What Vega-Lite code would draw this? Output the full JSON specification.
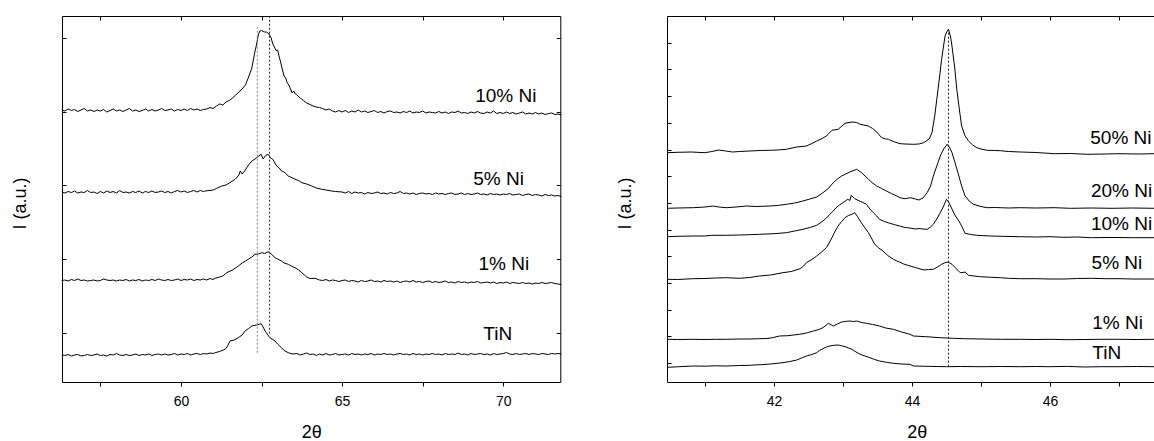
{
"$schema":"https://vega.github.io/schema/vega-lite/v6.json",
"padding":{"left":11,"top":15,"right":0,"bottom":0},
"background":"white",
"config":{"view":{"stroke":null},"font":"Liberation Sans",
"axis":{"labelFont":"Liberation Sans","titleFont":"Liberation Sans","labelColor":"#000","titleColor":"#000","domainColor":"#000","tickColor":"#000","grid":false,"labelFontSize":14,"titleFontSize":18,"titleFontWeight":"normal","domainWidth":1,"tickWidth":1}},
"bounds":"flush",
"spacing":106,
"datasets":{
"left":[
{"s":"10","x":56.3,"y":291},{"s":"10","x":56.4,"y":290},{"s":"10","x":56.5,"y":292},{"s":"10","x":56.6,"y":290.5},{"s":"10","x":56.7,"y":291.5},{"s":"10","x":56.8,"y":289.5},{"s":"10","x":56.9,"y":291},{"s":"10","x":57.0,"y":292.5},{"s":"10","x":57.1,"y":290},{"s":"10","x":57.2,"y":291},{"s":"10","x":57.3,"y":289.5},{"s":"10","x":57.4,"y":291},{"s":"10","x":57.5,"y":290},{"s":"10","x":57.6,"y":291.5},{"s":"10","x":57.7,"y":289},{"s":"10","x":57.8,"y":290.5},{"s":"10","x":57.9,"y":292},{"s":"10","x":58.0,"y":290},{"s":"10","x":58.1,"y":291},{"s":"10","x":58.2,"y":289.5},{"s":"10","x":58.3,"y":291},{"s":"10","x":58.4,"y":292.5},{"s":"10","x":58.5,"y":290},{"s":"10","x":58.6,"y":291},{"s":"10","x":58.7,"y":289.5},{"s":"10","x":58.8,"y":290.5},{"s":"10","x":58.9,"y":292},{"s":"10","x":59.0,"y":290},{"s":"10","x":59.1,"y":291.5},{"s":"10","x":59.2,"y":290},{"s":"10","x":59.3,"y":291},{"s":"10","x":59.4,"y":292.5},{"s":"10","x":59.5,"y":290.5},{"s":"10","x":59.6,"y":291},{"s":"10","x":59.7,"y":292},{"s":"10","x":59.8,"y":290},{"s":"10","x":59.9,"y":291.5},{"s":"10","x":60.0,"y":290.5},{"s":"10","x":60.1,"y":292},{"s":"10","x":60.2,"y":290.5},{"s":"10","x":60.3,"y":292.5},{"s":"10","x":60.4,"y":291},{"s":"10","x":60.5,"y":292},{"s":"10","x":60.6,"y":290.5},{"s":"10","x":60.7,"y":291.5},{"s":"10","x":60.8,"y":292},{"s":"10","x":60.9,"y":293.5},{"s":"10","x":61.0,"y":292.5},{"s":"10","x":61.1,"y":295},{"s":"10","x":61.2,"y":297},{"s":"10","x":61.3,"y":296},{"s":"10","x":61.4,"y":299},{"s":"10","x":61.5,"y":300.5},{"s":"10","x":61.6,"y":303},{"s":"10","x":61.7,"y":306},{"s":"10","x":61.8,"y":309},{"s":"10","x":61.9,"y":312},{"s":"10","x":62.0,"y":316},{"s":"10","x":62.1,"y":324},{"s":"10","x":62.2,"y":333},{"s":"10","x":62.3,"y":350},{"s":"10","x":62.35,"y":357},{"s":"10","x":62.4,"y":366},{"s":"10","x":62.45,"y":370},{"s":"10","x":62.5,"y":370.5},{"s":"10","x":62.55,"y":369.5},{"s":"10","x":62.6,"y":369},{"s":"10","x":62.65,"y":369},{"s":"10","x":62.7,"y":368},{"s":"10","x":62.75,"y":366},{"s":"10","x":62.8,"y":363},{"s":"10","x":62.85,"y":357},{"s":"10","x":62.9,"y":354},{"s":"10","x":62.95,"y":350.5},{"s":"10","x":63.0,"y":351},{"s":"10","x":63.05,"y":344},{"s":"10","x":63.1,"y":338},{"s":"10","x":63.15,"y":331},{"s":"10","x":63.2,"y":325},{"s":"10","x":63.25,"y":323},{"s":"10","x":63.3,"y":318},{"s":"10","x":63.35,"y":316},{"s":"10","x":63.4,"y":312},{"s":"10","x":63.45,"y":308},{"s":"10","x":63.5,"y":310},{"s":"10","x":63.55,"y":307},{"s":"10","x":63.6,"y":306},{"s":"10","x":63.7,"y":303},{"s":"10","x":63.8,"y":300.5},{"s":"10","x":63.9,"y":298},{"s":"10","x":64.0,"y":296.5},{"s":"10","x":64.1,"y":295},{"s":"10","x":64.2,"y":294},{"s":"10","x":64.3,"y":293.5},{"s":"10","x":64.4,"y":292.5},{"s":"10","x":64.5,"y":291},{"s":"10","x":64.6,"y":292},{"s":"10","x":64.7,"y":290},{"s":"10","x":64.8,"y":289},{"s":"10","x":64.9,"y":290.5},{"s":"10","x":65.0,"y":289},{"s":"10","x":65.1,"y":290.5},{"s":"10","x":65.2,"y":288.5},{"s":"10","x":65.3,"y":290},{"s":"10","x":65.4,"y":289},{"s":"10","x":65.5,"y":291},{"s":"10","x":65.6,"y":289},{"s":"10","x":65.7,"y":290},{"s":"10","x":65.8,"y":288.5},{"s":"10","x":65.9,"y":289.5},{"s":"10","x":66.0,"y":290.5},{"s":"10","x":66.1,"y":288.5},{"s":"10","x":66.2,"y":289.5},{"s":"10","x":66.3,"y":288},{"s":"10","x":66.4,"y":289.5},{"s":"10","x":66.5,"y":290},{"s":"10","x":66.6,"y":288.5},{"s":"10","x":66.7,"y":289},{"s":"10","x":66.8,"y":288},{"s":"10","x":66.9,"y":289.5},{"s":"10","x":67.0,"y":288.5},{"s":"10","x":67.1,"y":290},{"s":"10","x":67.2,"y":288},{"s":"10","x":67.3,"y":289},{"s":"10","x":67.4,"y":288.5},{"s":"10","x":67.5,"y":290},{"s":"10","x":67.6,"y":288},{"s":"10","x":67.7,"y":289},{"s":"10","x":67.8,"y":288.5},{"s":"10","x":67.9,"y":288},{"s":"10","x":68.0,"y":289.5},{"s":"10","x":68.1,"y":288},{"s":"10","x":68.2,"y":289},{"s":"10","x":68.3,"y":287.5},{"s":"10","x":68.4,"y":289},{"s":"10","x":68.5,"y":288.5},{"s":"10","x":68.6,"y":290},{"s":"10","x":68.7,"y":288},{"s":"10","x":68.8,"y":288.5},{"s":"10","x":68.9,"y":287.5},{"s":"10","x":69.0,"y":289},{"s":"10","x":69.1,"y":288},{"s":"10","x":69.2,"y":289.5},{"s":"10","x":69.3,"y":288},{"s":"10","x":69.4,"y":287.5},{"s":"10","x":69.5,"y":289},{"s":"10","x":69.6,"y":288},{"s":"10","x":69.7,"y":290},{"s":"10","x":69.8,"y":287.5},{"s":"10","x":69.9,"y":288.5},{"s":"10","x":70.0,"y":287.5},{"s":"10","x":70.1,"y":289},{"s":"10","x":70.2,"y":287.5},{"s":"10","x":70.3,"y":288.5},{"s":"10","x":70.4,"y":287},{"s":"10","x":70.5,"y":288},{"s":"10","x":70.6,"y":289},{"s":"10","x":70.7,"y":287},{"s":"10","x":70.8,"y":288},{"s":"10","x":70.9,"y":287},{"s":"10","x":71.0,"y":288.5},{"s":"10","x":71.1,"y":287},{"s":"10","x":71.2,"y":288},{"s":"10","x":71.3,"y":286.5},{"s":"10","x":71.4,"y":287.5},{"s":"10","x":71.5,"y":288},{"s":"10","x":71.6,"y":286.5},{"s":"10","x":71.7,"y":287},{"s":"10","x":71.8,"y":286},
{"s":"5","x":56.3,"y":209},{"s":"5","x":56.4,"y":208},{"s":"5","x":56.5,"y":209.5},{"s":"5","x":56.6,"y":208.5},{"s":"5","x":56.7,"y":210},{"s":"5","x":56.8,"y":208},{"s":"5","x":56.9,"y":209},{"s":"5","x":57.0,"y":208.5},{"s":"5","x":57.1,"y":210.5},{"s":"5","x":57.2,"y":208.5},{"s":"5","x":57.3,"y":209},{"s":"5","x":57.4,"y":207.5},{"s":"5","x":57.5,"y":209.5},{"s":"5","x":57.6,"y":208},{"s":"5","x":57.7,"y":210},{"s":"5","x":57.8,"y":208.5},{"s":"5","x":57.9,"y":209.5},{"s":"5","x":58.0,"y":208},{"s":"5","x":58.1,"y":210.5},{"s":"5","x":58.2,"y":208.5},{"s":"5","x":58.3,"y":209},{"s":"5","x":58.4,"y":208},{"s":"5","x":58.5,"y":209.5},{"s":"5","x":58.6,"y":208.5},{"s":"5","x":58.7,"y":210},{"s":"5","x":58.8,"y":208},{"s":"5","x":58.9,"y":209.5},{"s":"5","x":59.0,"y":208.5},{"s":"5","x":59.1,"y":210},{"s":"5","x":59.2,"y":208.5},{"s":"5","x":59.3,"y":209},{"s":"5","x":59.4,"y":210},{"s":"5","x":59.5,"y":208.5},{"s":"5","x":59.6,"y":209.5},{"s":"5","x":59.7,"y":208},{"s":"5","x":59.8,"y":209.5},{"s":"5","x":59.9,"y":210.5},{"s":"5","x":60.0,"y":209},{"s":"5","x":60.1,"y":210},{"s":"5","x":60.2,"y":208.5},{"s":"5","x":60.3,"y":209.5},{"s":"5","x":60.4,"y":210.5},{"s":"5","x":60.5,"y":209},{"s":"5","x":60.6,"y":210.5},{"s":"5","x":60.7,"y":209.5},{"s":"5","x":60.75,"y":210},{"s":"5","x":61.0,"y":211},{"s":"5","x":61.1,"y":212.5},{"s":"5","x":61.27,"y":215},{"s":"5","x":61.4,"y":216},{"s":"5","x":61.5,"y":218},{"s":"5","x":61.68,"y":221.7},{"s":"5","x":61.8,"y":226},{"s":"5","x":61.84,"y":230},{"s":"5","x":61.9,"y":227},{"s":"5","x":62.0,"y":231},{"s":"5","x":62.04,"y":233.3},{"s":"5","x":62.1,"y":236},{"s":"5","x":62.2,"y":240},{"s":"5","x":62.3,"y":242},{"s":"5","x":62.35,"y":243.3},{"s":"5","x":62.42,"y":245},{"s":"5","x":62.49,"y":246.7},{"s":"5","x":62.55,"y":242},{"s":"5","x":62.63,"y":245.5},{"s":"5","x":62.71,"y":246.7},{"s":"5","x":62.78,"y":243},{"s":"5","x":62.85,"y":241.7},{"s":"5","x":62.9,"y":239},{"s":"5","x":62.97,"y":235},{"s":"5","x":63.05,"y":233},{"s":"5","x":63.12,"y":230},{"s":"5","x":63.2,"y":229},{"s":"5","x":63.33,"y":225},{"s":"5","x":63.4,"y":224},{"s":"5","x":63.54,"y":221.7},{"s":"5","x":63.65,"y":220.5},{"s":"5","x":63.75,"y":218.3},{"s":"5","x":63.9,"y":217},{"s":"5","x":64.06,"y":215},{"s":"5","x":64.2,"y":213},{"s":"5","x":64.37,"y":211.7},{"s":"5","x":64.5,"y":211},{"s":"5","x":64.68,"y":210},{"s":"5","x":64.8,"y":209.5},{"s":"5","x":65.0,"y":209},{"s":"5","x":65.1,"y":208},{"s":"5","x":65.2,"y":209.5},{"s":"5","x":65.3,"y":207.5},{"s":"5","x":65.4,"y":209},{"s":"5","x":65.5,"y":208},{"s":"5","x":65.6,"y":208.5},{"s":"5","x":65.7,"y":207},{"s":"5","x":65.8,"y":208.5},{"s":"5","x":65.9,"y":207.5},{"s":"5","x":66.0,"y":208},{"s":"5","x":66.1,"y":209},{"s":"5","x":66.2,"y":207.5},{"s":"5","x":66.3,"y":208},{"s":"5","x":66.4,"y":207},{"s":"5","x":66.5,"y":208.5},{"s":"5","x":66.6,"y":207.5},{"s":"5","x":66.7,"y":208},{"s":"5","x":66.8,"y":209.5},{"s":"5","x":66.9,"y":207.5},{"s":"5","x":67.0,"y":208},{"s":"5","x":67.1,"y":207},{"s":"5","x":67.2,"y":208},{"s":"5","x":67.3,"y":206.5},{"s":"5","x":67.4,"y":207.5},{"s":"5","x":67.5,"y":208},{"s":"5","x":67.6,"y":207},{"s":"5","x":67.7,"y":207.5},{"s":"5","x":67.8,"y":206.5},{"s":"5","x":67.9,"y":208},{"s":"5","x":68.0,"y":207},{"s":"5","x":68.1,"y":207.5},{"s":"5","x":68.2,"y":206.5},{"s":"5","x":68.3,"y":207.5},{"s":"5","x":68.4,"y":208},{"s":"5","x":68.5,"y":206.5},{"s":"5","x":68.6,"y":207},{"s":"5","x":68.7,"y":208},{"s":"5","x":68.8,"y":206.5},{"s":"5","x":68.9,"y":207.5},{"s":"5","x":69.0,"y":206.5},{"s":"5","x":69.1,"y":207},{"s":"5","x":69.2,"y":208},{"s":"5","x":69.3,"y":206.5},{"s":"5","x":69.4,"y":207},{"s":"5","x":69.5,"y":206},{"s":"5","x":69.6,"y":207.5},{"s":"5","x":69.7,"y":206.5},{"s":"5","x":69.8,"y":207},{"s":"5","x":69.9,"y":206},{"s":"5","x":70.0,"y":207},{"s":"5","x":70.1,"y":206.5},{"s":"5","x":70.2,"y":207.5},{"s":"5","x":70.3,"y":206},{"s":"5","x":70.4,"y":206.5},{"s":"5","x":70.5,"y":207},{"s":"5","x":70.6,"y":205.5},{"s":"5","x":70.7,"y":206.5},{"s":"5","x":70.8,"y":207},{"s":"5","x":70.9,"y":205.5},{"s":"5","x":71.0,"y":206.5},{"s":"5","x":71.1,"y":206},{"s":"5","x":71.2,"y":205},{"s":"5","x":71.3,"y":206.5},{"s":"5","x":71.4,"y":205.5},{"s":"5","x":71.5,"y":206},{"s":"5","x":71.6,"y":205},{"s":"5","x":71.7,"y":205.5},{"s":"5","x":71.8,"y":204.5},
{"s":"1","x":56.3,"y":120.5},{"s":"1","x":56.4,"y":121},{"s":"1","x":56.5,"y":120},{"s":"1","x":56.6,"y":121.5},{"s":"1","x":56.7,"y":120.5},{"s":"1","x":56.8,"y":122},{"s":"1","x":56.9,"y":120.5},{"s":"1","x":57.0,"y":121},{"s":"1","x":57.1,"y":120},{"s":"1","x":57.2,"y":120.5},{"s":"1","x":57.3,"y":121},{"s":"1","x":57.4,"y":120},{"s":"1","x":57.5,"y":120.5},{"s":"1","x":57.6,"y":122},{"s":"1","x":57.7,"y":121},{"s":"1","x":57.8,"y":120.5},{"s":"1","x":57.9,"y":121},{"s":"1","x":58.0,"y":120},{"s":"1","x":58.1,"y":121},{"s":"1","x":58.2,"y":120.5},{"s":"1","x":58.3,"y":121.5},{"s":"1","x":58.4,"y":120},{"s":"1","x":58.5,"y":121},{"s":"1","x":58.6,"y":120.5},{"s":"1","x":58.7,"y":121.5},{"s":"1","x":58.8,"y":120},{"s":"1","x":58.9,"y":121},{"s":"1","x":59.0,"y":120.5},{"s":"1","x":59.1,"y":121.5},{"s":"1","x":59.2,"y":120.5},{"s":"1","x":59.3,"y":122},{"s":"1","x":59.4,"y":121},{"s":"1","x":59.5,"y":120.5},{"s":"1","x":59.6,"y":121.5},{"s":"1","x":59.7,"y":120.5},{"s":"1","x":59.8,"y":121},{"s":"1","x":59.9,"y":122},{"s":"1","x":60.0,"y":120.5},{"s":"1","x":60.1,"y":121.5},{"s":"1","x":60.2,"y":121},{"s":"1","x":60.3,"y":122},{"s":"1","x":60.4,"y":120.5},{"s":"1","x":60.5,"y":121.5},{"s":"1","x":60.6,"y":121},{"s":"1","x":60.7,"y":122},{"s":"1","x":60.8,"y":121},{"s":"1","x":60.9,"y":122.5},{"s":"1","x":61.0,"y":121.5},{"s":"1","x":61.06,"y":122.7},{"s":"1","x":61.2,"y":124},{"s":"1","x":61.3,"y":125},{"s":"1","x":61.42,"y":128.3},{"s":"1","x":61.6,"y":131},{"s":"1","x":61.78,"y":135},{"s":"1","x":61.9,"y":138},{"s":"1","x":62.0,"y":140},{"s":"1","x":62.09,"y":141.7},{"s":"1","x":62.2,"y":144},{"s":"1","x":62.3,"y":146.7},{"s":"1","x":62.4,"y":147},{"s":"1","x":62.51,"y":148.3},{"s":"1","x":62.6,"y":147.5},{"s":"1","x":62.71,"y":149.3},{"s":"1","x":62.8,"y":147},{"s":"1","x":62.92,"y":143.3},{"s":"1","x":63.0,"y":142},{"s":"1","x":63.12,"y":140},{"s":"1","x":63.2,"y":138},{"s":"1","x":63.33,"y":136.7},{"s":"1","x":63.45,"y":134.5},{"s":"1","x":63.54,"y":133.3},{"s":"1","x":63.65,"y":131},{"s":"1","x":63.75,"y":128.3},{"s":"1","x":63.9,"y":124},{"s":"1","x":64.0,"y":122.5},{"s":"1","x":64.16,"y":122.7},{"s":"1","x":64.3,"y":121},{"s":"1","x":64.4,"y":120.5},{"s":"1","x":64.5,"y":121.5},{"s":"1","x":64.6,"y":120},{"s":"1","x":64.7,"y":121},{"s":"1","x":64.8,"y":120.5},{"s":"1","x":64.9,"y":119.5},{"s":"1","x":65.0,"y":120.5},{"s":"1","x":65.1,"y":121},{"s":"1","x":65.2,"y":119.5},{"s":"1","x":65.3,"y":120.5},{"s":"1","x":65.4,"y":120},{"s":"1","x":65.5,"y":119},{"s":"1","x":65.6,"y":120.5},{"s":"1","x":65.7,"y":119.5},{"s":"1","x":65.8,"y":120},{"s":"1","x":65.9,"y":121},{"s":"1","x":66.0,"y":119.5},{"s":"1","x":66.1,"y":120},{"s":"1","x":66.2,"y":119},{"s":"1","x":66.3,"y":120.5},{"s":"1","x":66.4,"y":119.5},{"s":"1","x":66.5,"y":120},{"s":"1","x":66.6,"y":119},{"s":"1","x":66.7,"y":120},{"s":"1","x":66.8,"y":118.5},{"s":"1","x":66.9,"y":119.5},{"s":"1","x":67.0,"y":120},{"s":"1","x":67.1,"y":119},{"s":"1","x":67.2,"y":120.5},{"s":"1","x":67.3,"y":119},{"s":"1","x":67.4,"y":119.5},{"s":"1","x":67.5,"y":118.5},{"s":"1","x":67.6,"y":119.5},{"s":"1","x":67.7,"y":120},{"s":"1","x":67.8,"y":118.5},{"s":"1","x":67.9,"y":119.5},{"s":"1","x":68.0,"y":118.5},{"s":"1","x":68.1,"y":119},{"s":"1","x":68.2,"y":120},{"s":"1","x":68.3,"y":118.5},{"s":"1","x":68.4,"y":119},{"s":"1","x":68.5,"y":118},{"s":"1","x":68.6,"y":119.5},{"s":"1","x":68.7,"y":118.5},{"s":"1","x":68.8,"y":119},{"s":"1","x":68.9,"y":118},{"s":"1","x":69.0,"y":119},{"s":"1","x":69.1,"y":118.5},{"s":"1","x":69.2,"y":119.5},{"s":"1","x":69.3,"y":118},{"s":"1","x":69.4,"y":118.5},{"s":"1","x":69.5,"y":119},{"s":"1","x":69.6,"y":118},{"s":"1","x":69.7,"y":119},{"s":"1","x":69.8,"y":117.5},{"s":"1","x":69.9,"y":118.5},{"s":"1","x":70.0,"y":118},{"s":"1","x":70.1,"y":119},{"s":"1","x":70.2,"y":117.5},{"s":"1","x":70.3,"y":118.5},{"s":"1","x":70.4,"y":118},{"s":"1","x":70.5,"y":117.5},{"s":"1","x":70.6,"y":118.5},{"s":"1","x":70.7,"y":117.5},{"s":"1","x":70.8,"y":118},{"s":"1","x":70.9,"y":117},{"s":"1","x":71.0,"y":118},{"s":"1","x":71.1,"y":117.5},{"s":"1","x":71.2,"y":118.5},{"s":"1","x":71.3,"y":117.5},{"s":"1","x":71.4,"y":118},{"s":"1","x":71.5,"y":118.5},{"s":"1","x":71.6,"y":117.5},{"s":"1","x":71.7,"y":117},{"s":"1","x":71.8,"y":116.5},
{"s":"T","x":56.3,"y":46},{"s":"T","x":56.4,"y":45.5},{"s":"T","x":56.5,"y":46.5},{"s":"T","x":56.6,"y":45},{"s":"T","x":56.7,"y":46},{"s":"T","x":56.8,"y":46.5},{"s":"T","x":56.9,"y":45},{"s":"T","x":57.0,"y":45.5},{"s":"T","x":57.1,"y":46.5},{"s":"T","x":57.2,"y":45.5},{"s":"T","x":57.3,"y":46},{"s":"T","x":57.4,"y":47},{"s":"T","x":57.5,"y":45.5},{"s":"T","x":57.6,"y":46},{"s":"T","x":57.7,"y":45},{"s":"T","x":57.8,"y":46.5},{"s":"T","x":57.9,"y":46},{"s":"T","x":58.0,"y":47.5},{"s":"T","x":58.1,"y":46},{"s":"T","x":58.2,"y":45.5},{"s":"T","x":58.3,"y":46.5},{"s":"T","x":58.4,"y":45.5},{"s":"T","x":58.5,"y":46},{"s":"T","x":58.6,"y":47},{"s":"T","x":58.7,"y":45.5},{"s":"T","x":58.8,"y":46.5},{"s":"T","x":58.9,"y":46},{"s":"T","x":59.0,"y":47},{"s":"T","x":59.1,"y":45.5},{"s":"T","x":59.2,"y":46.5},{"s":"T","x":59.3,"y":47},{"s":"T","x":59.4,"y":46},{"s":"T","x":59.5,"y":47},{"s":"T","x":59.6,"y":46},{"s":"T","x":59.7,"y":46.5},{"s":"T","x":59.8,"y":47.5},{"s":"T","x":59.9,"y":46},{"s":"T","x":60.0,"y":47},{"s":"T","x":60.1,"y":46.5},{"s":"T","x":60.2,"y":47.5},{"s":"T","x":60.3,"y":46},{"s":"T","x":60.4,"y":47},{"s":"T","x":60.5,"y":47.5},{"s":"T","x":60.6,"y":46.5},{"s":"T","x":60.7,"y":47.5},{"s":"T","x":60.8,"y":47},{"s":"T","x":60.9,"y":48},{"s":"T","x":61.0,"y":47.5},{"s":"T","x":61.06,"y":48.3},{"s":"T","x":61.2,"y":49.5},{"s":"T","x":61.37,"y":51.7},{"s":"T","x":61.45,"y":55},{"s":"T","x":61.52,"y":60},{"s":"T","x":61.65,"y":61},{"s":"T","x":61.78,"y":63.3},{"s":"T","x":61.9,"y":66},{"s":"T","x":61.99,"y":70},{"s":"T","x":62.1,"y":72.5},{"s":"T","x":62.2,"y":75},{"s":"T","x":62.35,"y":76},{"s":"T","x":62.49,"y":77.3},{"s":"T","x":62.55,"y":74},{"s":"T","x":62.61,"y":70},{"s":"T","x":62.7,"y":66},{"s":"T","x":62.76,"y":63.3},{"s":"T","x":62.85,"y":61.5},{"s":"T","x":62.92,"y":60},{"s":"T","x":63.0,"y":57},{"s":"T","x":63.12,"y":53.3},{"s":"T","x":63.2,"y":50.5},{"s":"T","x":63.33,"y":48.3},{"s":"T","x":63.45,"y":47},{"s":"T","x":63.6,"y":47.5},{"s":"T","x":63.7,"y":46},{"s":"T","x":63.8,"y":47},{"s":"T","x":63.9,"y":48},{"s":"T","x":64.0,"y":46.5},{"s":"T","x":64.1,"y":47},{"s":"T","x":64.2,"y":45.5},{"s":"T","x":64.3,"y":47},{"s":"T","x":64.4,"y":46},{"s":"T","x":64.5,"y":47.5},{"s":"T","x":64.6,"y":46},{"s":"T","x":64.7,"y":46.5},{"s":"T","x":64.8,"y":47.5},{"s":"T","x":64.9,"y":46},{"s":"T","x":65.0,"y":46.5},{"s":"T","x":65.1,"y":47},{"s":"T","x":65.2,"y":46},{"s":"T","x":65.3,"y":47.5},{"s":"T","x":65.4,"y":46.5},{"s":"T","x":65.5,"y":47},{"s":"T","x":65.6,"y":46},{"s":"T","x":65.7,"y":47},{"s":"T","x":65.8,"y":46.5},{"s":"T","x":65.9,"y":47.5},{"s":"T","x":66.0,"y":46},{"s":"T","x":66.1,"y":47},{"s":"T","x":66.2,"y":46.5},{"s":"T","x":66.3,"y":47.5},{"s":"T","x":66.4,"y":46.5},{"s":"T","x":66.5,"y":47},{"s":"T","x":66.6,"y":46},{"s":"T","x":66.7,"y":47},{"s":"T","x":66.8,"y":47.5},{"s":"T","x":66.9,"y":46.5},{"s":"T","x":67.0,"y":47},{"s":"T","x":67.1,"y":46},{"s":"T","x":67.2,"y":47.5},{"s":"T","x":67.3,"y":46.5},{"s":"T","x":67.4,"y":47},{"s":"T","x":67.5,"y":46},{"s":"T","x":67.6,"y":47},{"s":"T","x":67.7,"y":46.5},{"s":"T","x":67.8,"y":47.5},{"s":"T","x":67.9,"y":46.5},{"s":"T","x":68.0,"y":47},{"s":"T","x":68.1,"y":46},{"s":"T","x":68.2,"y":47.5},{"s":"T","x":68.3,"y":46.5},{"s":"T","x":68.4,"y":47},{"s":"T","x":68.5,"y":46.5},{"s":"T","x":68.6,"y":48},{"s":"T","x":68.7,"y":46.5},{"s":"T","x":68.8,"y":47},{"s":"T","x":68.9,"y":46},{"s":"T","x":69.0,"y":47.5},{"s":"T","x":69.1,"y":46.5},{"s":"T","x":69.2,"y":47},{"s":"T","x":69.3,"y":47.5},{"s":"T","x":69.4,"y":46.5},{"s":"T","x":69.5,"y":47},{"s":"T","x":69.6,"y":46},{"s":"T","x":69.7,"y":47.5},{"s":"T","x":69.8,"y":46.5},{"s":"T","x":69.9,"y":47},{"s":"T","x":70.0,"y":47.5},{"s":"T","x":70.1,"y":48.5},{"s":"T","x":70.2,"y":47},{"s":"T","x":70.3,"y":46.5},{"s":"T","x":70.4,"y":47.5},{"s":"T","x":70.5,"y":46.5},{"s":"T","x":70.6,"y":47},{"s":"T","x":70.7,"y":47.5},{"s":"T","x":70.8,"y":46.5},{"s":"T","x":70.9,"y":47.5},{"s":"T","x":71.0,"y":47},{"s":"T","x":71.1,"y":46.5},{"s":"T","x":71.2,"y":47.5},{"s":"T","x":71.3,"y":47},{"s":"T","x":71.4,"y":46.5},{"s":"T","x":71.5,"y":47.5},{"s":"T","x":71.6,"y":47},{"s":"T","x":71.7,"y":47.5},{"s":"T","x":71.8,"y":47}
],
"right":[
{"s":"50","x":40.45,"y":248.3},{"s":"50","x":40.6,"y":248.7},{"s":"50","x":40.8,"y":249},{"s":"50","x":41.0,"y":248.3},{"s":"50","x":41.1,"y":249.5},{"s":"50","x":41.2,"y":251},{"s":"50","x":41.3,"y":250},{"s":"50","x":41.4,"y":249},{"s":"50","x":41.5,"y":249.5},{"s":"50","x":41.65,"y":250},{"s":"50","x":41.8,"y":250.5},{"s":"50","x":41.94,"y":250.7},{"s":"50","x":42.05,"y":251},{"s":"50","x":42.18,"y":251.7},{"s":"50","x":42.33,"y":254},{"s":"50","x":42.47,"y":255},{"s":"50","x":42.55,"y":257.5},{"s":"50","x":42.62,"y":260},{"s":"50","x":42.7,"y":262.5},{"s":"50","x":42.76,"y":265},{"s":"50","x":42.84,"y":270.7},{"s":"50","x":42.93,"y":271.7},{"s":"50","x":43.03,"y":277.7},{"s":"50","x":43.13,"y":279},{"s":"50","x":43.2,"y":278.5},{"s":"50","x":43.25,"y":276.7},{"s":"50","x":43.37,"y":275},{"s":"50","x":43.43,"y":272.5},{"s":"50","x":43.49,"y":269},{"s":"50","x":43.56,"y":263.3},{"s":"50","x":43.62,"y":262},{"s":"50","x":43.66,"y":261.7},{"s":"50","x":43.75,"y":259},{"s":"50","x":43.83,"y":257.3},{"s":"50","x":43.9,"y":257},{"s":"50","x":44.02,"y":256.7},{"s":"50","x":44.1,"y":257},{"s":"50","x":44.17,"y":258.3},{"s":"50","x":44.25,"y":262},{"s":"50","x":44.29,"y":268.3},{"s":"50","x":44.33,"y":285},{"s":"50","x":44.36,"y":301.7},{"s":"50","x":44.4,"y":324},{"s":"50","x":44.43,"y":341.7},{"s":"50","x":44.46,"y":356},{"s":"50","x":44.48,"y":365},{"s":"50","x":44.51,"y":370},{"s":"50","x":44.53,"y":371.7},{"s":"50","x":44.56,"y":364},{"s":"50","x":44.58,"y":355},{"s":"50","x":44.62,"y":333},{"s":"50","x":44.65,"y":311.7},{"s":"50","x":44.69,"y":290},{"s":"50","x":44.72,"y":275},{"s":"50","x":44.77,"y":265},{"s":"50","x":44.82,"y":260},{"s":"50","x":44.88,"y":256},{"s":"50","x":44.94,"y":253.3},{"s":"50","x":45.0,"y":252},{"s":"50","x":45.09,"y":250.7},{"s":"50","x":45.2,"y":250.5},{"s":"50","x":45.28,"y":250.3},{"s":"50","x":45.4,"y":249.5},{"s":"50","x":45.57,"y":249},{"s":"50","x":45.8,"y":248.5},{"s":"50","x":46.06,"y":247.3},{"s":"50","x":46.3,"y":247.5},{"s":"50","x":46.54,"y":246.7},{"s":"50","x":46.8,"y":247},{"s":"50","x":47.0,"y":247.3},{"s":"50","x":47.3,"y":247},{"s":"50","x":47.52,"y":247.3},
{"s":"20","x":40.45,"y":192.7},{"s":"20","x":40.6,"y":193},{"s":"20","x":40.83,"y":193.3},{"s":"20","x":41.0,"y":194},{"s":"20","x":41.12,"y":195},{"s":"20","x":41.2,"y":194},{"s":"20","x":41.31,"y":193.3},{"s":"20","x":41.45,"y":194},{"s":"20","x":41.6,"y":195},{"s":"20","x":41.75,"y":194.5},{"s":"20","x":41.94,"y":195},{"s":"20","x":42.05,"y":195.5},{"s":"20","x":42.18,"y":196.7},{"s":"20","x":42.3,"y":198},{"s":"20","x":42.42,"y":200},{"s":"20","x":42.52,"y":202},{"s":"20","x":42.62,"y":204},{"s":"20","x":42.71,"y":208.3},{"s":"20","x":42.78,"y":212},{"s":"20","x":42.86,"y":218.3},{"s":"20","x":42.92,"y":222},{"s":"20","x":42.98,"y":225},{"s":"20","x":43.04,"y":227},{"s":"20","x":43.1,"y":229},{"s":"20","x":43.2,"y":231.7},{"s":"20","x":43.27,"y":228.3},{"s":"20","x":43.32,"y":225},{"s":"20","x":43.37,"y":221.7},{"s":"20","x":43.43,"y":218},{"s":"20","x":43.49,"y":215},{"s":"20","x":43.56,"y":212.5},{"s":"20","x":43.63,"y":210},{"s":"20","x":43.7,"y":207.5},{"s":"20","x":43.78,"y":205},{"s":"20","x":43.84,"y":203},{"s":"20","x":43.9,"y":202.3},{"s":"20","x":43.98,"y":203.3},{"s":"20","x":44.05,"y":202},{"s":"20","x":44.1,"y":201},{"s":"20","x":44.16,"y":203},{"s":"20","x":44.22,"y":208.3},{"s":"20","x":44.27,"y":215},{"s":"20","x":44.31,"y":225},{"s":"20","x":44.36,"y":235},{"s":"20","x":44.41,"y":245},{"s":"20","x":44.46,"y":252},{"s":"20","x":44.51,"y":256.7},{"s":"20","x":44.55,"y":253},{"s":"20","x":44.58,"y":248.3},{"s":"20","x":44.63,"y":237},{"s":"20","x":44.68,"y":225},{"s":"20","x":44.72,"y":215},{"s":"20","x":44.77,"y":205},{"s":"20","x":44.83,"y":200},{"s":"20","x":44.89,"y":196.7},{"s":"20","x":45.0,"y":194.5},{"s":"20","x":45.09,"y":193.3},{"s":"20","x":45.2,"y":193.5},{"s":"20","x":45.28,"y":193.3},{"s":"20","x":45.4,"y":193},{"s":"20","x":45.57,"y":193.3},{"s":"20","x":45.8,"y":193},{"s":"20","x":46.06,"y":193.3},{"s":"20","x":46.3,"y":192.7},{"s":"20","x":46.6,"y":193},{"s":"20","x":46.9,"y":192.7},{"s":"20","x":47.2,"y":193},{"s":"20","x":47.52,"y":192.7},
{"s":"10","x":40.45,"y":164.3},{"s":"10","x":40.6,"y":164.7},{"s":"10","x":40.83,"y":165},{"s":"10","x":41.0,"y":165},{"s":"10","x":41.1,"y":165.7},{"s":"10","x":41.31,"y":165.7},{"s":"10","x":41.5,"y":166},{"s":"10","x":41.65,"y":166.3},{"s":"10","x":41.79,"y":166.7},{"s":"10","x":42.0,"y":167.3},{"s":"10","x":42.18,"y":168.3},{"s":"10","x":42.3,"y":170},{"s":"10","x":42.42,"y":171.7},{"s":"10","x":42.52,"y":173.5},{"s":"10","x":42.62,"y":175.7},{"s":"10","x":42.71,"y":180},{"s":"10","x":42.76,"y":183},{"s":"10","x":42.81,"y":186.7},{"s":"10","x":42.86,"y":190},{"s":"10","x":42.9,"y":193.3},{"s":"10","x":42.95,"y":196},{"s":"10","x":43.0,"y":198.3},{"s":"10","x":43.07,"y":201.7},{"s":"10","x":43.1,"y":200.5},{"s":"10","x":43.12,"y":205.7},{"s":"10","x":43.17,"y":202.3},{"s":"10","x":43.24,"y":200},{"s":"10","x":43.29,"y":198.5},{"s":"10","x":43.34,"y":196.7},{"s":"10","x":43.39,"y":192},{"s":"10","x":43.44,"y":188.3},{"s":"10","x":43.49,"y":185},{"s":"10","x":43.53,"y":181.7},{"s":"10","x":43.6,"y":179.5},{"s":"10","x":43.68,"y":177.7},{"s":"10","x":43.75,"y":176.3},{"s":"10","x":43.82,"y":175},{"s":"10","x":43.9,"y":173.5},{"s":"10","x":43.97,"y":173},{"s":"10","x":44.05,"y":172},{"s":"10","x":44.1,"y":172.5},{"s":"10","x":44.16,"y":172},{"s":"10","x":44.22,"y":171.7},{"s":"10","x":44.27,"y":174},{"s":"10","x":44.31,"y":176.7},{"s":"10","x":44.36,"y":182},{"s":"10","x":44.41,"y":188.3},{"s":"10","x":44.46,"y":195},{"s":"10","x":44.5,"y":201.7},{"s":"10","x":44.53,"y":199},{"s":"10","x":44.56,"y":195},{"s":"10","x":44.6,"y":189},{"s":"10","x":44.63,"y":185},{"s":"10","x":44.68,"y":180},{"s":"10","x":44.72,"y":175},{"s":"10","x":44.77,"y":167.7},{"s":"10","x":44.85,"y":166.5},{"s":"10","x":44.94,"y":165.7},{"s":"10","x":45.14,"y":165},{"s":"10","x":45.3,"y":164.7},{"s":"10","x":45.57,"y":164.3},{"s":"10","x":45.8,"y":164},{"s":"10","x":46.0,"y":164.3},{"s":"10","x":46.2,"y":163.7},{"s":"10","x":46.4,"y":164},{"s":"10","x":46.6,"y":163.3},{"s":"10","x":46.8,"y":163.5},{"s":"10","x":47.0,"y":163.5},{"s":"10","x":47.2,"y":163.3},{"s":"10","x":47.52,"y":163.3},
{"s":"5","x":40.45,"y":121.7},{"s":"5","x":40.6,"y":121.5},{"s":"5","x":40.83,"y":122.3},{"s":"5","x":41.0,"y":122.5},{"s":"5","x":41.15,"y":123},{"s":"5","x":41.31,"y":123.3},{"s":"5","x":41.5,"y":122.7},{"s":"5","x":41.65,"y":123.5},{"s":"5","x":41.79,"y":125},{"s":"5","x":41.95,"y":126},{"s":"5","x":42.13,"y":128.3},{"s":"5","x":42.25,"y":129.5},{"s":"5","x":42.38,"y":132.3},{"s":"5","x":42.43,"y":135},{"s":"5","x":42.47,"y":138.3},{"s":"5","x":42.55,"y":141.5},{"s":"5","x":42.62,"y":145},{"s":"5","x":42.69,"y":149},{"s":"5","x":42.76,"y":153.3},{"s":"5","x":42.8,"y":158},{"s":"5","x":42.84,"y":163.3},{"s":"5","x":42.88,"y":169},{"s":"5","x":42.93,"y":175},{"s":"5","x":42.98,"y":179.5},{"s":"5","x":43.03,"y":183.3},{"s":"5","x":43.08,"y":185.5},{"s":"5","x":43.13,"y":186.7},{"s":"5","x":43.17,"y":188.3},{"s":"5","x":43.21,"y":184.5},{"s":"5","x":43.25,"y":180},{"s":"5","x":43.31,"y":174},{"s":"5","x":43.37,"y":168.3},{"s":"5","x":43.42,"y":162},{"s":"5","x":43.46,"y":156.7},{"s":"5","x":43.52,"y":153},{"s":"5","x":43.58,"y":150},{"s":"5","x":43.65,"y":145.5},{"s":"5","x":43.73,"y":141.7},{"s":"5","x":43.78,"y":140},{"s":"5","x":43.82,"y":139},{"s":"5","x":43.88,"y":137},{"s":"5","x":43.94,"y":135.7},{"s":"5","x":44.05,"y":133.5},{"s":"5","x":44.17,"y":131},{"s":"5","x":44.24,"y":131.5},{"s":"5","x":44.31,"y":131.7},{"s":"5","x":44.37,"y":134},{"s":"5","x":44.43,"y":136.7},{"s":"5","x":44.47,"y":138},{"s":"5","x":44.51,"y":139},{"s":"5","x":44.55,"y":138},{"s":"5","x":44.58,"y":136.7},{"s":"5","x":44.64,"y":132.5},{"s":"5","x":44.7,"y":128.3},{"s":"5","x":44.74,"y":128.5},{"s":"5","x":44.77,"y":129},{"s":"5","x":44.82,"y":125.7},{"s":"5","x":44.9,"y":125},{"s":"5","x":44.99,"y":124.3},{"s":"5","x":45.15,"y":123.7},{"s":"5","x":45.28,"y":123.3},{"s":"5","x":45.4,"y":122.7},{"s":"5","x":45.57,"y":122.3},{"s":"5","x":45.8,"y":122.3},{"s":"5","x":46.0,"y":122},{"s":"5","x":46.2,"y":122},{"s":"5","x":46.4,"y":122.5},{"s":"5","x":46.6,"y":122.7},{"s":"5","x":46.8,"y":122.3},{"s":"5","x":47.0,"y":122.3},{"s":"5","x":47.2,"y":122},{"s":"5","x":47.52,"y":122},
{"s":"1","x":40.45,"y":61.7},{"s":"1","x":40.6,"y":61.5},{"s":"1","x":40.83,"y":61.7},{"s":"1","x":41.0,"y":61.5},{"s":"1","x":41.15,"y":61.7},{"s":"1","x":41.31,"y":61.7},{"s":"1","x":41.5,"y":62},{"s":"1","x":41.65,"y":62},{"s":"1","x":41.79,"y":62.3},{"s":"1","x":41.9,"y":62.5},{"s":"1","x":41.98,"y":63.3},{"s":"1","x":42.08,"y":65},{"s":"1","x":42.2,"y":65.3},{"s":"1","x":42.37,"y":66.7},{"s":"1","x":42.47,"y":68},{"s":"1","x":42.57,"y":70},{"s":"1","x":42.65,"y":71.5},{"s":"1","x":42.71,"y":73.3},{"s":"1","x":42.79,"y":77.7},{"s":"1","x":42.86,"y":75},{"s":"1","x":42.92,"y":77},{"s":"1","x":42.98,"y":79},{"s":"1","x":43.05,"y":79.7},{"s":"1","x":43.1,"y":80},{"s":"1","x":43.15,"y":79.5},{"s":"1","x":43.2,"y":80},{"s":"1","x":43.27,"y":78.5},{"s":"1","x":43.34,"y":77.7},{"s":"1","x":43.43,"y":76.5},{"s":"1","x":43.53,"y":75},{"s":"1","x":43.62,"y":73},{"s":"1","x":43.73,"y":71.7},{"s":"1","x":43.85,"y":69},{"s":"1","x":43.97,"y":66.7},{"s":"1","x":44.02,"y":65},{"s":"1","x":44.2,"y":64.3},{"s":"1","x":44.41,"y":63.3},{"s":"1","x":44.6,"y":62.7},{"s":"1","x":44.75,"y":62.3},{"s":"1","x":45.0,"y":62},{"s":"1","x":45.3,"y":61.7},{"s":"1","x":45.57,"y":61.7},{"s":"1","x":45.8,"y":61.5},{"s":"1","x":46.0,"y":61.7},{"s":"1","x":46.25,"y":61.3},{"s":"1","x":46.5,"y":61.5},{"s":"1","x":46.75,"y":61.7},{"s":"1","x":47.0,"y":61.7},{"s":"1","x":47.25,"y":61.5},{"s":"1","x":47.52,"y":61.7},
{"s":"T","x":40.45,"y":33.7},{"s":"T","x":40.6,"y":34.2},{"s":"T","x":40.83,"y":35},{"s":"T","x":41.0,"y":34.8},{"s":"T","x":41.15,"y":35.2},{"s":"T","x":41.31,"y":35},{"s":"T","x":41.5,"y":35.5},{"s":"T","x":41.64,"y":35.7},{"s":"T","x":41.8,"y":36.3},{"s":"T","x":41.95,"y":37},{"s":"T","x":42.13,"y":38.3},{"s":"T","x":42.23,"y":39.5},{"s":"T","x":42.33,"y":41},{"s":"T","x":42.4,"y":43},{"s":"T","x":42.47,"y":45},{"s":"T","x":42.55,"y":46.5},{"s":"T","x":42.62,"y":48.3},{"s":"T","x":42.66,"y":50.5},{"s":"T","x":42.71,"y":52.3},{"s":"T","x":42.76,"y":54},{"s":"T","x":42.81,"y":55},{"s":"T","x":42.87,"y":55.7},{"s":"T","x":42.93,"y":56},{"s":"T","x":42.98,"y":55.3},{"s":"T","x":43.03,"y":54.3},{"s":"T","x":43.08,"y":53},{"s":"T","x":43.13,"y":51.7},{"s":"T","x":43.19,"y":49},{"s":"T","x":43.25,"y":46.7},{"s":"T","x":43.32,"y":45},{"s":"T","x":43.39,"y":43.3},{"s":"T","x":43.46,"y":41.5},{"s":"T","x":43.53,"y":40},{"s":"T","x":43.63,"y":38.7},{"s":"T","x":43.73,"y":37.7},{"s":"T","x":43.85,"y":37},{"s":"T","x":43.97,"y":36.7},{"s":"T","x":44.02,"y":35},{"s":"T","x":44.2,"y":34.7},{"s":"T","x":44.35,"y":34.5},{"s":"T","x":44.5,"y":34.3},{"s":"T","x":44.7,"y":34.5},{"s":"T","x":45.0,"y":34.3},{"s":"T","x":45.3,"y":34.5},{"s":"T","x":45.57,"y":34.3},{"s":"T","x":45.8,"y":34.5},{"s":"T","x":46.0,"y":34.3},{"s":"T","x":46.25,"y":34.6},{"s":"T","x":46.5,"y":34},{"s":"T","x":46.75,"y":34.3},{"s":"T","x":47.0,"y":34.3},{"s":"T","x":47.25,"y":34.5},{"s":"T","x":47.52,"y":34.3}
]},
"hconcat":[
{"width":498.3,"height":366,
"layer":[
{"data":{"name":"left"},"mark":{"type":"line","color":"#000","strokeWidth":1},
"encoding":{
"x":{"field":"x","type":"quantitative","scale":{"domain":[56.31,71.77],"nice":false,"zero":false},"axis":{"orient":"bottom","values":[57.5,60,62.5,65,67.5,70],"labelExpr":"datum.value % 5 === 0 ? datum.label : ''","tickSize":4,"labelPadding":8,"title":"2θ","titleX":249.2,"titleY":50,"titleBaseline":"middle"}},
"y":{"field":"y","type":"quantitative","scale":{"domain":[19,385],"nice":false,"zero":false},"axis":{"orient":"left","values":[68.3,142,215.8,289.5,363.3],"labels":false,"tickSize":-4,"title":"I (a.u.)","titleX":-41.7,"titleY":187,"titleBaseline":"middle"}},
"detail":{"field":"s"}}},
{"data":{"values":[{"x":62.37,"y":48.3,"y2":374}]},"mark":{"type":"rule","color":"#808080","strokeWidth":1,"strokeDash":[2,2]},
"encoding":{
"x":{"field":"x","type":"quantitative","axis":{"orient":"top","values":[57.5,60,62.5,65,67.5,70],"labels":false,"tickSize":-4,"title":null}},
"y":{"field":"y","type":"quantitative","axis":{"orient":"right","values":[68.3,142,215.8,289.5,363.3],"labels":false,"tickSize":-4,"title":null}},
"y2":{"field":"y2"}}},
{"data":{"values":[{"x":62.75,"y":67.3,"y2":384}]},"mark":{"type":"rule","color":"#222","strokeWidth":1,"strokeDash":[2,2]},
"encoding":{"x":{"field":"x","type":"quantitative","axis":null},"y":{"field":"y","type":"quantitative","axis":null},"y2":{"field":"y2"}}},
{"data":{"values":[{"label":"10% Ni","x":69.13,"y":304.7},{"label":"5% Ni","x":69.07,"y":221.7},{"label":"1% Ni","x":69.23,"y":136.7},{"label":"TiN","x":69.38,"y":66.7}]},
"mark":{"type":"text","align":"left","baseline":"middle","fontSize":19,"color":"#000","font":"Liberation Sans"},
"encoding":{"x":{"field":"x","type":"quantitative","axis":null},"y":{"field":"y","type":"quantitative","axis":null},"text":{"field":"label"}}}
],
"resolve":{"axis":{"x":"independent","y":"independent"}}},
{"width":487.7,"height":366,
"layer":[
{"data":{"name":"right"},"mark":{"type":"line","color":"#000","strokeWidth":1},
"encoding":{
"x":{"field":"x","type":"quantitative","scale":{"domain":[40.45,47.518],"nice":false,"zero":false},"axis":{"orient":"bottom","values":[41,42,43,44,45,46,47],"labelExpr":"datum.value % 2 === 0 ? datum.label : ''","tickSize":4,"labelPadding":8,"title":"2θ","titleX":249.7,"titleY":50,"titleBaseline":"middle"}},
"y":{"field":"y","type":"quantitative","scale":{"domain":[19,385],"nice":false,"zero":false},"axis":{"orient":"left","values":[37.9,64.6,91.3,118,144.7,171.4,198.1,224.8,251.5,278.2,304.9,331.6,358.3],"labels":false,"tickSize":-4,"title":"I (a.u.)","titleX":-41.7,"titleY":187,"titleBaseline":"middle"}},
"detail":{"field":"s"}}},
{"data":{"values":[{"x":44.53,"y":34.3,"y2":371.7}]},"mark":{"type":"rule","color":"#222","strokeWidth":1,"strokeDash":[2,2]},
"encoding":{
"x":{"field":"x","type":"quantitative","axis":{"orient":"top","values":[41,42,43,44,45,46,47],"labels":false,"tickSize":-4,"title":null}},
"y":{"field":"y","type":"quantitative","axis":null},
"y2":{"field":"y2"}}},
{"data":{"values":[{"label":"50% Ni","x":46.584,"y":262.7},{"label":"20% Ni","x":46.594,"y":210},{"label":"10% Ni","x":46.594,"y":177.3},{"label":"5% Ni","x":46.603,"y":138.3},{"label":"1% Ni","x":46.613,"y":78.3},{"label":"TiN","x":46.613,"y":48.3}]},
"mark":{"type":"text","align":"left","baseline":"middle","fontSize":19,"color":"#000","font":"Liberation Sans"},
"encoding":{"x":{"field":"x","type":"quantitative","axis":null},"y":{"field":"y","type":"quantitative","axis":null},"text":{"field":"label"}}}
],
"resolve":{"axis":{"x":"independent","y":"independent"}}}
]
}
